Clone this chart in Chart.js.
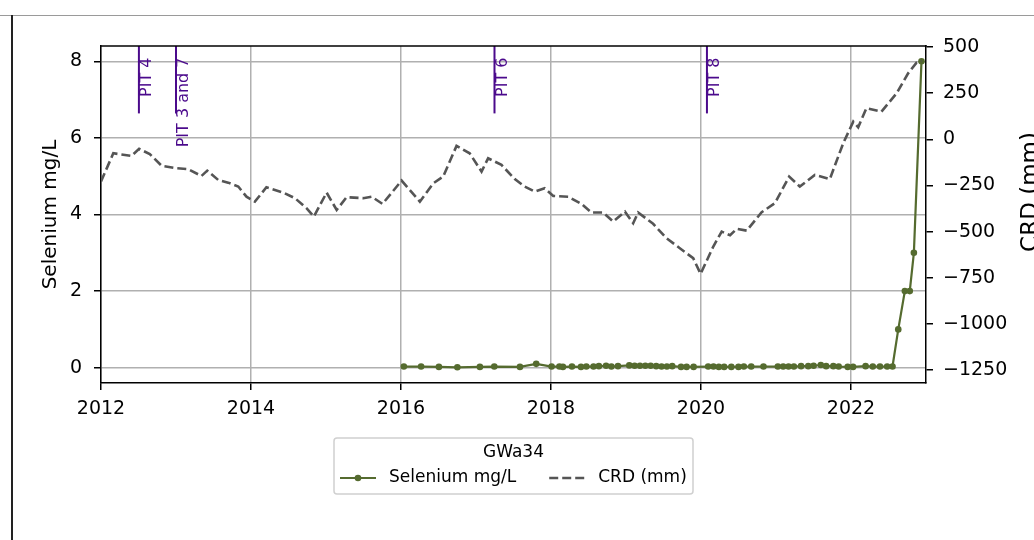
<!DOCTYPE html>
<html>
<head>
<meta charset="utf-8">
<title>GWa34 Selenium / CRD</title>
<script src="https://cdn.jsdelivr.net/npm/chart.js@4.4.1/dist/chart.umd.min.js"></script>
<style>
  html, body { margin: 0; padding: 0; background: #fff; overflow: hidden; }
  #wrap { position: relative; width: 1034px; height: 540px; }
  #chart { position: absolute; left: 0; top: 0; }
  /* notebook cell frame */
  .cell-top { position: absolute; left: 0; top: 15px; width: 1034px; height: 1px; background: #9a9a9a; }
  .cell-left { position: absolute; left: 11px; top: 15px; width: 2px; height: 525px; background: #222; }
</style>
</head>
<body>
<div id="wrap">
  <canvas id="chart" width="1034" height="540"></canvas>
  <div class="cell-top"></div>
  <div class="cell-left"></div>
</div>
<script>
// Selenium samples (mg/L)
const seDates = [
    '2016-01-15', '2016-04-08', '2016-07-04', '2016-10-02', '2017-01-20', '2017-03-31', '2017-08-03', '2017-10-21',
    '2018-01-04', '2018-02-11', '2018-02-28', '2018-04-13', '2018-05-27', '2018-06-22', '2018-07-27', '2018-08-22',
    '2018-09-26', '2018-10-22', '2018-11-23', '2019-01-17', '2019-02-12', '2019-03-10', '2019-04-05', '2019-05-01',
    '2019-05-28', '2019-06-23', '2019-07-19', '2019-08-14', '2019-09-26', '2019-10-23', '2019-11-26', '2020-02-05',
    '2020-03-02', '2020-03-28', '2020-04-23', '2020-05-28', '2020-07-02', '2020-07-28', '2020-09-02', '2020-11-01',
    '2021-01-10', '2021-02-05', '2021-03-03', '2021-03-29', '2021-05-03', '2021-06-07', '2021-07-03', '2021-08-07',
    '2021-09-02', '2021-10-07', '2021-11-02', '2021-12-16', '2022-01-11', '2022-03-13', '2022-04-17', '2022-05-22',
    '2022-06-26', '2022-07-22', '2022-08-19', '2022-09-20', '2022-10-14', '2022-11-03', '2022-12-10'
];
const seValues = [
    0.03, 0.03, 0.02, 0.01, 0.02, 0.03, 0.02, 0.10,
    0.03, 0.03, 0.02, 0.03, 0.02, 0.03, 0.03, 0.04,
    0.05, 0.03, 0.04, 0.06, 0.05, 0.05, 0.05, 0.05,
    0.04, 0.03, 0.03, 0.04, 0.02, 0.02, 0.02, 0.03,
    0.03, 0.02, 0.02, 0.02, 0.02, 0.03, 0.03, 0.03,
    0.03, 0.03, 0.03, 0.03, 0.04, 0.04, 0.05, 0.07,
    0.04, 0.04, 0.03, 0.02, 0.02, 0.04, 0.03, 0.03,
    0.03, 0.03, 1.0, 2.0, 2.0, 3.0, 8.0
];

// Cumulative rainfall departure (mm)
const crdDates = [
    '2012-01-01', '2012-03-01', '2012-05-29', '2012-07-05', '2012-08-26', '2012-10-23', '2013-01-04', '2013-03-01',
    '2013-05-05', '2013-06-02', '2013-07-25', '2013-09-12', '2013-10-31', '2013-12-10', '2014-01-20', '2014-03-17',
    '2014-06-07', '2014-08-03', '2014-09-28', '2014-11-03', '2015-01-04', '2015-02-22', '2015-04-11', '2015-07-01',
    '2015-08-11', '2015-10-03', '2016-01-04', '2016-04-02', '2016-06-07', '2016-07-25', '2016-09-28', '2016-12-01',
    '2017-01-28', '2017-03-01', '2017-05-05', '2017-07-09', '2017-08-26', '2017-10-14', '2017-12-01', '2018-01-12',
    '2018-03-26', '2018-05-29', '2018-07-17', '2018-09-12', '2018-10-31', '2018-12-27', '2019-02-05', '2019-03-01',
    '2019-05-13', '2019-07-17', '2019-09-20', '2019-11-24', '2019-12-30', '2020-03-01', '2020-04-11', '2020-05-22',
    '2020-06-23', '2020-08-11', '2020-10-23', '2020-12-27', '2021-03-06', '2021-04-27', '2021-07-09', '2021-09-20',
    '2021-11-24', '2022-01-12', '2022-02-05', '2022-03-17', '2022-05-29', '2022-08-11', '2022-10-06', '2022-11-16',
    '2022-12-10'
];
const crdValues = [
    -229, -76, -90, -52, -80, -144, -157, -162,
    -199, -170, -220, -235, -256, -311, -338, -260,
    -289, -319, -373, -419, -289, -383, -314, -319,
    -311, -350, -224, -338, -238, -202, -36, -76,
    -175, -103, -139, -216, -256, -283, -265, -307,
    -311, -350, -397, -397, -446, -392, -455, -397,
    -458, -536, -590, -644, -729, -581, -500, -520,
    -485, -495, -395, -346, -202, -256, -193, -216,
    -22, 95, 65, 168, 149, 249, 357, 415,
    425
];

// Pit event markers
const pitDates = ['2012-07-04', '2013-01-01', '2017-04-01', '2020-01-30'];
const pitLabels = ['PIT 4', 'PIT 3 and 7', 'PIT 6', 'PIT 8'];

// Tick labels
const yearTicks = [2012, 2014, 2016, 2018, 2020, 2022];
const seTicks = [0, 2, 4, 6, 8];
const crdTicks = [-1250, -1000, -750, -500, -250, 0, 250, 500];

const legendTitle = 'GWa34';

const FONT = '"DejaVu Sans", sans-serif';
const SE_COLOR = '#556b2f';
const CRD_COLOR = '#555555';
const PIT_COLOR = '#4b0a8c';

/**
 * 'YYYY-MM-DD' -> decimal year
 */
function toYear(s) {
    const [y, m, d] = s.split('-').map(Number);
    const start = Date.UTC(y, 0, 1);
    const end = Date.UTC(y + 1, 0, 1);
    return y + (Date.UTC(y, m - 1, d) - start) / (end - start);
}

function pairs(dates, values) {
    return dates.map((d, i) => ({ x: toYear(d), y: values[i] }));
}

// matplotlib style minus sign
function fmtTick(v) {
    return v < 0 ? '\u2212' + Math.abs(v) : String(v);
}

function fixedTicks(list) {
    return scale => { scale.ticks = list.map(v => ({ value: v })); };
}

const tickFont = { family: FONT, size: 19 };
const gridStyle = { color: '#b0b0b0', lineWidth: 1.5, tickLength: 7, tickColor: '#000', tickWidth: 1.5 };
const borderStyle = { color: '#000', width: 1.5 };

// PIT lines + labels (axvline over top 20% of the axes)
const pitPlugin = {
    id: 'pitPlugin',
    afterDatasetsDraw(chart) {
        const { ctx, chartArea: a, scales } = chart;
        ctx.save();
        ctx.strokeStyle = PIT_COLOR;
        ctx.fillStyle = PIT_COLOR;
        ctx.lineWidth = 2;
        ctx.font = '16px ' + FONT;
        pitDates.forEach((d, i) => {
            const x = scales.x.getPixelForValue(toYear(d));
            ctx.beginPath();
            ctx.moveTo(x, a.top);
            ctx.lineTo(x, a.top + 0.2 * (a.bottom - a.top));
            ctx.stroke();
            ctx.save();
            ctx.translate(x, scales.y.getPixelForValue(8.1));
            ctx.rotate(-Math.PI / 2);
            ctx.textAlign = 'right';
            ctx.textBaseline = 'top';
            ctx.fillText(pitLabels[i], 0, 0);
            ctx.restore();
        });
        ctx.restore();
    }
};

// top spine, right axis title, boxed legend
const framePlugin = {
    id: 'framePlugin',
    afterDraw(chart) {
        const { ctx, chartArea: a } = chart;
        ctx.save();
        ctx.strokeStyle = '#000';
        ctx.lineWidth = 1.5;
        ctx.beginPath();
        ctx.moveTo(a.left - 0.75, a.top);
        ctx.lineTo(a.right + 0.75, a.top);
        ctx.stroke();

        // right y label (cut by the page edge like the reference)
        ctx.fillStyle = '#000';
        ctx.font = '23px ' + FONT;
        ctx.translate(1020, 192);
        ctx.rotate(-Math.PI / 2);
        ctx.textAlign = 'center';
        ctx.textBaseline = 'top';
        ctx.fillText('CRD (mm)', 0, 0);
        ctx.restore();

        // legend
        const box = { x: 334, y: 438, w: 359, h: 56 };
        ctx.save();
        ctx.fillStyle = 'rgba(255,255,255,0.8)';
        ctx.strokeStyle = '#d0d0d0';
        ctx.lineWidth = 1.5;
        ctx.beginPath();
        ctx.roundRect(box.x, box.y, box.w, box.h, 3);
        ctx.fill();
        ctx.stroke();

        ctx.fillStyle = '#000';
        ctx.font = '17px ' + FONT;
        ctx.textAlign = 'center';
        ctx.textBaseline = 'middle';
        ctx.fillText(legendTitle, box.x + box.w / 2, box.y + 15);

        ctx.textAlign = 'left';
        const rowY = box.y + 40;
        let sx = box.x + 6;
        chart.data.datasets.forEach(ds => {
            ctx.strokeStyle = ds.borderColor;
            ctx.lineWidth = ds.borderWidth;
            ctx.setLineDash(ds.borderDash || []);
            ctx.beginPath();
            ctx.moveTo(sx, rowY);
            ctx.lineTo(sx + 36, rowY);
            ctx.stroke();
            ctx.setLineDash([]);
            if (ds.pointRadius > 0) {
                ctx.fillStyle = ds.borderColor;
                ctx.beginPath();
                ctx.arc(sx + 18, rowY, ds.pointRadius, 0, Math.PI * 2);
                ctx.fill();
            }
            ctx.fillStyle = '#000';
            ctx.fillText(ds.label, sx + 49, rowY);
            sx += 49 + ctx.measureText(ds.label).width + 33;
        });
        ctx.restore();
    }
};

new Chart(document.getElementById('chart').getContext('2d'), {
    type: 'line',
    data: {
        datasets: [
            {
                label: 'Selenium mg/L',
                data: pairs(seDates, seValues),
                yAxisID: 'y',
                borderColor: SE_COLOR,
                backgroundColor: SE_COLOR,
                borderWidth: 2.2,
                pointRadius: 3.3,
                pointBorderWidth: 0,
                pointBackgroundColor: SE_COLOR,
                tension: 0,
                order: 1
            },
            {
                label: 'CRD (mm)',
                data: pairs(crdDates, crdValues),
                yAxisID: 'y2',
                borderColor: CRD_COLOR,
                borderWidth: 2.6,
                borderDash: [9, 4],
                pointRadius: 0,
                tension: 0,
                order: 0
            }
        ]
    },
    options: {
        responsive: false,
        animation: false,
        devicePixelRatio: 1,
        layout: { padding: { left: 0, right: 0, top: 46, bottom: 0 } },
        plugins: {
            legend: { display: false },
            tooltip: { enabled: false }
        },
        scales: {
            x: {
                type: 'linear',
                position: 'bottom',
                min: 2012,
                max: 2023,
                afterBuildTicks: fixedTicks(yearTicks),
                afterFit: s => { s.height = 157; },
                ticks: { font: tickFont, color: '#000', padding: 8, maxRotation: 0, callback: v => String(v) },
                grid: gridStyle,
                border: borderStyle
            },
            y: {
                type: 'linear',
                position: 'left',
                min: -0.4,
                max: 8.4,
                afterBuildTicks: fixedTicks(seTicks),
                afterFit: s => { s.width = 101; },
                ticks: { font: tickFont, color: '#000', padding: 12, callback: fmtTick },
                grid: gridStyle,
                border: borderStyle,
                title: {
                    display: true,
                    text: 'Selenium mg/L',
                    color: '#000',
                    font: { family: FONT, size: 20 },
                    padding: { top: 39, bottom: 0 }
                }
            },
            y2: {
                type: 'linear',
                position: 'right',
                min: -1320,
                max: 505,
                afterBuildTicks: fixedTicks(crdTicks),
                afterFit: s => { s.width = 108; },
                ticks: { font: tickFont, color: '#000', padding: 10, callback: fmtTick },
                grid: Object.assign({}, gridStyle, { drawOnChartArea: false }),
                border: borderStyle
            }
        }
    },
    plugins: [pitPlugin, framePlugin]
});
</script>
</body>
</html>
